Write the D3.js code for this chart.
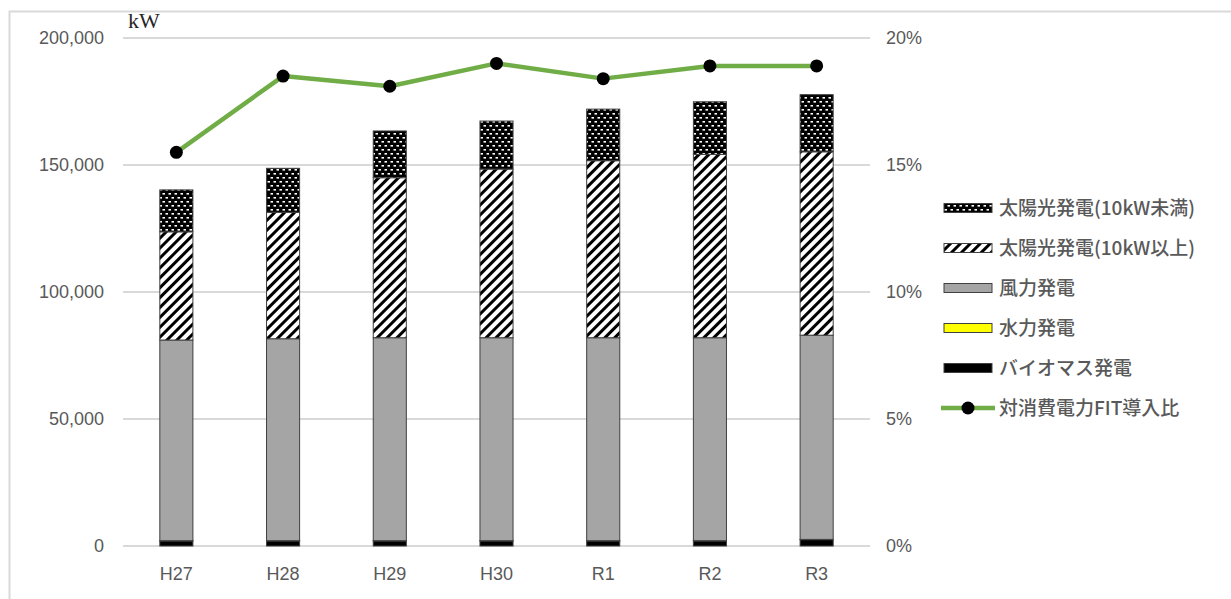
<!DOCTYPE html>
<html lang="ja">
<head>
    <meta charset="utf-8">
    <title>FIT導入量の推移</title>
    <script type="text/javascript" src="https://d3js.org/d3.v7.min.js"></script>
    <style>
        body { margin: 0; background: #fff; }
        svg { display: block; }
    </style>
</head>
<body>
    <div id="chart"></div>

    <script type="text/javascript">

        // Fiscal years
        var years = ["H27", "H28", "H29", "H30", "R1", "R2", "R3"];

        // Installed capacity by source (kW)
        var biomass  = [2000, 2000, 2000, 2000, 2000, 2000, 2500];
        var hydro    = [100, 100, 100, 100, 100, 100, 100];
        var wind     = [79000, 79500, 79900, 79900, 79900, 79900, 80400];
        var solarBig = [42600, 49800, 63000, 66400, 69700, 72200, 72200];
        var solarSmall = [16500, 17300, 18400, 18900, 20300, 20700, 22500];

        // FIT share of consumed power
        var fitRatio = [0.155, 0.185, 0.181, 0.190, 0.184, 0.189, 0.189];

        var leftTicks = [0, 50000, 100000, 150000, 200000];
        var rightTicks = [0, 0.05, 0.10, 0.15, 0.20];

        var series = [
            { key: "biomass", name: "バイオマス発電", values: biomass, fill: "#000000" },
            { key: "hydro", name: "水力発電", values: hydro, fill: "#ffff00" },
            { key: "wind", name: "風力発電", values: wind, fill: "#a5a5a5" },
            { key: "solarBig", name: "太陽光発電(10kW以上)", values: solarBig, fill: "url(#diag)" },
            { key: "solarSmall", name: "太陽光発電(10kW未満)", values: solarSmall, fill: "url(#checks)" }
        ];

        var svgWidth = 1231, svgHeight = 599;
        var plotLeft = 123, plotRight = 870, plotTop = 38, plotBottom = 546;

        var svg = d3.select("#chart").append("svg")
            .attr("width", svgWidth)
            .attr("height", svgHeight);

        // Patterns for the solar series
        var defs = svg.append("defs");

        var diag = defs.append("pattern")
            .attr("id", "diag")
            .attr("patternUnits", "userSpaceOnUse")
            .attr("width", 7)
            .attr("height", 7)
            .attr("patternTransform", "rotate(45)");
        diag.append("rect").attr("width", 7).attr("height", 7).attr("fill", "#fff");
        diag.append("rect").attr("width", 3).attr("height", 7).attr("fill", "#000");

        var checks = defs.append("pattern")
            .attr("id", "checks")
            .attr("patternUnits", "userSpaceOnUse")
            .attr("width", 6)
            .attr("height", 8);
        checks.append("rect").attr("width", 6).attr("height", 8).attr("fill", "#000");
        checks.append("rect").attr("x", 0.5).attr("y", 1).attr("width", 2.5).attr("height", 1.6).attr("fill", "#fff");
        checks.append("rect").attr("x", 3.5).attr("y", 5).attr("width", 2.5).attr("height", 1.6).attr("fill", "#fff");

        // Outer frame
        svg.append("rect")
            .attr("x", 9.5)
            .attr("y", 11.5)
            .attr("width", 1400)
            .attr("height", 800)
            .attr("fill", "none")
            .attr("stroke", "#d9d9d9")
            .attr("stroke-width", 2);

        // Scales
        var x = d3.scaleBand()
            .domain(years)
            .range([plotLeft, plotRight])
            .paddingInner(0.69)
            .paddingOuter(0.345);

        var y = d3.scaleLinear()
            .domain([0, 200000])
            .range([plotBottom, plotTop]);

        var yRight = d3.scaleLinear()
            .domain([0, 0.2])
            .range([plotBottom, plotTop]);

        // Gridlines
        svg.append("g").selectAll("line")
            .data(leftTicks)
            .enter().append("line")
            .attr("x1", plotLeft)
            .attr("x2", plotRight)
            .attr("y1", function(d) { return y(d); })
            .attr("y2", function(d) { return y(d); })
            .attr("stroke", "#d9d9d9")
            .attr("stroke-width", 2);

        // Left axis labels
        var tickFont = "'Liberation Sans', Arial, sans-serif";
        svg.append("g").selectAll("text")
            .data(leftTicks)
            .enter().append("text")
            .attr("x", 104)
            .attr("y", function(d) { return y(d); })
            .attr("dy", "0.35em")
            .attr("text-anchor", "end")
            .style("font-family", tickFont)
            .style("font-size", "18px")
            .style("fill", "#595959")
            .text(function(d) { return d3.format(",")(d); });

        // Right axis labels
        svg.append("g").selectAll("text")
            .data(rightTicks)
            .enter().append("text")
            .attr("x", 886)
            .attr("y", function(d) { return yRight(d); })
            .attr("dy", "0.35em")
            .style("font-family", tickFont)
            .style("font-size", "18px")
            .style("fill", "#595959")
            .text(function(d) { return d3.format(".0%")(d); });

        // Category labels
        svg.append("g").selectAll("text")
            .data(years)
            .enter().append("text")
            .attr("x", function(d) { return x(d) + x.bandwidth() / 2; })
            .attr("y", 580)
            .attr("text-anchor", "middle")
            .style("font-family", tickFont)
            .style("font-size", "18px")
            .style("fill", "#595959")
            .text(function(d) { return d; });

        // Unit label
        svg.append("text")
            .attr("x", 128)
            .attr("y", 28)
            .style("font-family", "'Liberation Serif', 'Times New Roman', serif")
            .style("font-size", "22px")
            .style("fill", "#262626")
            .text("kW");

        // Stacked bars
        var rows = years.map(function(yr, i) {
            var row = { year: yr };
            series.forEach(function(s) { row[s.key] = s.values[i]; });
            return row;
        });
        var stack = d3.stack().keys(series.map(function(s) { return s.key; }));
        var stacked = stack(rows);

        svg.append("g").selectAll("g")
            .data(stacked)
            .enter().append("g")
            .attr("fill", function(d, i) { return series[i].fill; })
            .selectAll("rect")
            .data(function(d) { return d; })
            .enter().append("rect")
            .attr("x", function(d) { return x(d.data.year); })
            .attr("y", function(d) { return y(d[1]); })
            .attr("width", x.bandwidth())
            .attr("height", function(d) { return y(d[0]) - y(d[1]); })
            .attr("stroke", "#404040")
            .attr("stroke-width", 1);

        // FIT ratio line
        var line = d3.line()
            .x(function(d, i) { return x(years[i]) + x.bandwidth() / 2; })
            .y(function(d) { return yRight(d); });

        svg.append("path")
            .datum(fitRatio)
            .attr("d", line)
            .attr("fill", "none")
            .attr("stroke", "#70ad47")
            .attr("stroke-width", 4.5)
            .attr("stroke-linejoin", "round");

        svg.append("g").selectAll("circle")
            .data(fitRatio)
            .enter().append("circle")
            .attr("cx", function(d, i) { return x(years[i]) + x.bandwidth() / 2; })
            .attr("cy", function(d) { return yRight(d); })
            .attr("r", 6.5)
            .attr("fill", "#000");

        // Legend
        var legendItems = series.slice().reverse().map(function(s) {
            return { name: s.name, fill: s.fill, type: "bar" };
        });
        legendItems.push({ name: "対消費電力FIT導入比", type: "line" });

        var legend = svg.append("g")
            .attr("transform", "translate(944,208)");

        var item = legend.selectAll("g")
            .data(legendItems)
            .enter().append("g")
            .attr("transform", function(d, i) { return "translate(0," + (i * 40) + ")"; });

        item.filter(function(d) { return d.type === "bar"; })
            .append("rect")
            .attr("x", 0)
            .attr("y", -4.5)
            .attr("width", 48)
            .attr("height", 9)
            .attr("fill", function(d) { return d.fill; })
            .attr("stroke", "#404040")
            .attr("stroke-width", 1);

        var lineItem = item.filter(function(d) { return d.type === "line"; });
        lineItem.append("line")
            .attr("x1", -3)
            .attr("x2", 51)
            .attr("y1", 0)
            .attr("y2", 0)
            .attr("stroke", "#70ad47")
            .attr("stroke-width", 4.5);
        lineItem.append("circle")
            .attr("cx", 24)
            .attr("cy", 0)
            .attr("r", 6.5)
            .attr("fill", "#000");

        item.append("text")
            .attr("x", 55)
            .attr("y", 0)
            .attr("dy", "0.36em")
            .style("font-family", "'Noto Sans CJK JP', sans-serif")
            .style("font-size", "19px")
            .style("font-weight", "500")
            .style("fill", "#595959")
            .text(function(d) { return d.name; });

    </script>
</body>
</html>
